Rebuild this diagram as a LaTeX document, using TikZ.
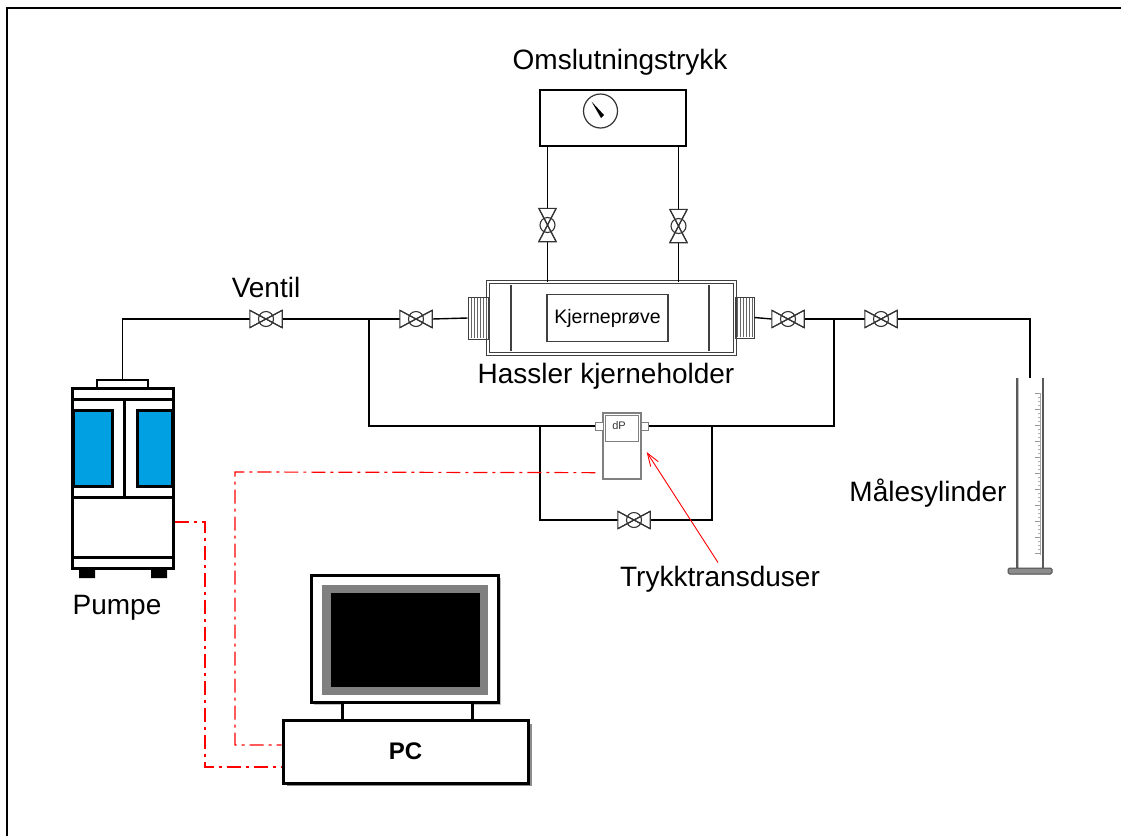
\documentclass[tikz,border=0pt]{standalone}
\usepackage{fontspec}
\setmainfont{Liberation Sans}
\usetikzlibrary{arrows.meta}
\definecolor{winblue}{RGB}{0,160,227}
\definecolor{frameg}{RGB}{128,128,128}
\begin{document}
\begin{tikzpicture}[x=1pt,y=-1pt,
  pipe/.style={line width=1.4pt, black},
  valvesym/.style={line width=1.1pt, draw=black!80},
  valveh/.style={rectangle, inner sep=0pt, minimum width=32pt, minimum height=17pt},
  valvev/.style={rectangle, inner sep=0pt, minimum width=17pt, minimum height=33pt},
  signal/.style={red, line width=1.2pt, dash pattern=on 14pt off 5pt on 3pt off 5pt},
  lbl/.style={font=\fontsize{28}{30}\selectfont, anchor=base, inner sep=0pt},
  box/.style={rectangle, inner sep=0pt}
]
\useasboundingbox (0,0) rectangle (1121,836);

% outer frame
\draw[line width=2.5pt] (7,836) -- (7,8) -- (1121,8);

% ---------- confining pressure gauge ----------
\node[box, draw, line width=1.8pt, minimum width=146pt, minimum height=56pt] (gauge) at (613,118) {};
\draw[line width=1.2pt, black!80] (600.5,111) circle[radius=17];
\fill (591.5,101.5) -- (604,115) -- (601,118) -- cycle;

% ---------- core holder ----------
\node[box, minimum width=247pt, minimum height=72pt] (holder) at (611.5,318) {};
\draw[line width=0.9pt, draw=black!75, double=white, double distance=2pt]
  (holder.north west) rectangle (holder.south east);
\draw[line width=1.1pt, black!75] (511,285) -- (511,351) (709,285) -- (709,351);
\node[box, draw=black!75, line width=1.1pt, minimum width=121pt, minimum height=47pt,
  font=\fontsize{19.5}{22}\selectfont] (sample) at (607.5,318) {Kjerneprøve};

% threaded end connectors
\node[box, draw=black!75, line width=1pt, minimum width=20pt, minimum height=42pt] (conL) at (478,318) {};
\node[box, draw=black!75, line width=1pt, minimum width=19pt, minimum height=41pt] (conR) at (744.5,317.5) {};
\foreach \x in {471,474,...,486} \draw[black!60, line width=0.7pt] (\x,298) -- (\x,338);
\foreach \x in {737,740,...,752} \draw[black!60, line width=0.7pt] (\x,298) -- (\x,337);

% ---------- valves ----------
\node[valveh] (v1) at (266,319) {};
\node[valveh] (v2) at (416,319) {};
\node[valveh] (v3) at (788,319) {};
\node[valveh] (v4) at (881,319) {};
\node[valveh] (vb) at (634,520) {};
\node[valvev] (vg1) at (547.5,225) {};
\node[valvev] (vg2) at (678.5,226) {};

% ---------- differential pressure transducer ----------
\node[box, draw=black!50, line width=1.3pt, minimum width=38pt, minimum height=66pt] (td) at (622,446) {};
\draw[black!50, line width=1pt] (605.5,415.5) rectangle (638.5,441);
\node[box, draw=black!50, line width=1pt, fill=white, minimum width=8pt, minimum height=8pt] (tdL) at (599,426) {};
\node[box, draw=black!50, line width=1pt, fill=white, minimum width=7pt, minimum height=8pt] (tdR) at (644.5,426) {};
\node[font=\fontsize{11}{12}\selectfont, anchor=base, inner sep=0pt, text=black!80] (dp) at (619,429) {dP};

% ---------- pump ----------
\node[box, draw, line width=3pt, fill=white, minimum width=101pt, minimum height=180pt] (pump) at (122.5,478) {};
\node[box, draw, line width=2.5pt, fill=white, minimum width=51pt, minimum height=8pt] (pumpcap) at (122.5,384) {};
\draw[line width=3pt, fill=winblue] (73,410) rectangle (112,486);
\draw[line width=3pt, fill=winblue] (137,410) rectangle (172,486);
\draw[line width=2.5pt] (72,399.5) -- (173,399.5);
\draw[line width=2.5pt] (124.5,399.5) -- (124.5,497);
\draw[line width=3pt] (72,497.5) -- (173,497.5);
\draw[line width=3pt] (72,557.5) -- (173,557.5);
\fill (79,568) rectangle (95,578) (151,568) rectangle (167,578);

% ---------- measuring cylinder ----------
\node[box, minimum width=26pt, minimum height=190pt] (cyl) at (1030,473) {};
\draw[line width=2pt, black!65] (cyl.north west) -- (cyl.south west);
\draw[line width=2pt, black!65] (cyl.north east) -- (cyl.south east);
\draw[line width=0.8pt, black!25] ([xshift=2pt]cyl.north west) -- ([xshift=2pt]cyl.south west);
\draw[line width=1pt, black!35] (1040,393) -- (1040,555);
\foreach \t in {0,...,40} {
  \pgfmathsetmacro{\ty}{393+4*\t}
  \ifnum\numexpr\t-4*(\t/4)\relax=0
    \draw[black!40, line width=0.7pt] (1035,\ty) -- (1040,\ty);
  \else
    \draw[black!30, line width=0.5pt] (1038,\ty) -- (1040,\ty);
  \fi
}
\draw[fill=black!45, draw=black!70, line width=1pt, rounded corners=1.5pt] (1008,568) rectangle (1052,574);

% ---------- computer ----------
\fill[black!25] (314,578) rectangle (501,705);
\node[box, draw, line width=3pt, fill=white, minimum width=187pt, minimum height=127pt] (mon) at (404.5,638.5) {};
\fill[frameg] (322,585) rectangle (488,695);
\fill[black] (331,593) rectangle (480,687);
\node[box, draw, line width=3pt, fill=white, minimum width=130pt, minimum height=18pt] (stand) at (407,711) {};
\fill[black!45] (287,724) rectangle (532,786);
\node[box, draw, line width=3pt, fill=white, minimum width=245pt, minimum height=63pt,
  font=\bfseries\fontsize{24}{26}\selectfont] (pcbase) at (405.5,751.5) {PC};

% ---------- piping ----------
\coordinate (jl) at (369,319);
\coordinate (jr) at (834,319);
\coordinate (il) at (540,426);
\coordinate (ir) at (712,426);
\draw[pipe] (pumpcap.north) |- (v1.west);
\draw[pipe] (v1.east) -- (v2.west);
\draw[pipe] (v2.east) -- (conL.west);
\draw[pipe] (conR.east) -- (v3.west);
\draw[pipe] (v3.east) -- (v4.west);
\draw[pipe] (v4.east) -| (cyl.north);
\draw[pipe] (gauge.south -| vg1) -- (vg1.north);
\draw[pipe] (vg1.south) -- (vg1 |- holder.north);
\draw[pipe] (gauge.south -| vg2) -- (vg2.north);
\draw[pipe] (vg2.south) -- (vg2 |- holder.north);
\draw[pipe] (jl) |- (tdL.west);
\draw[pipe] (tdR.east) -| (jr);
\draw[pipe] (il) |- (vb.west);
\draw[pipe] (vb.east) -| (ir);

% valve symbols: two opposed triangles and a ball
\foreach \v in {v1,v2,v3,v4,vb}
  \draw[valvesym, fill=white] (\v.north west) -- (\v.south west) -- (\v.center) -- cycle
    (\v.north east) -- (\v.south east) -- (\v.center) -- cycle
    (\v.center) circle[radius=7.5];
\foreach \v in {vg1,vg2}
  \draw[valvesym, fill=white] (\v.north west) -- (\v.north east) -- (\v.center) -- cycle
    (\v.south west) -- (\v.south east) -- (\v.center) -- cycle
    (\v.center) circle[radius=7.5];
\foreach \v in {v1,v2,v3,v4,vb}
  \draw[valvesym] (\v.north west) -- (\v.center) -- (\v.south east)
    (\v.south west) -- (\v.center) -- (\v.north east);
\foreach \v in {vg1,vg2}
  \draw[valvesym] (\v.north west) -- (\v.center) -- (\v.south east)
    (\v.south west) -- (\v.center) -- (\v.north east);

% ---------- signal cables ----------
\draw[signal] ([xshift=-7pt,yshift=7pt]td.south west) -- (235,472) |- ([yshift=6.5pt]pcbase.west);
\draw[signal] ([yshift=-44pt]pump.east) -- (205,522) |- ([yshift=-15.5pt]pcbase.west);

% ---------- labels ----------
\node[lbl] (lgauge) at (620,69) {Omslutningstrykk};
\node[lbl] (lvent) at (266,297) {Ventil};
\node[lbl] (lholder) at (606,383) {Hassler kjerneholder};
\node[lbl] (lpump) at (117,614) {Pumpe};
\node[lbl] (ltrans) at (720,586) {Trykktransduser};
\node[lbl] (lcyl) at (928,501) {Målesylinder};

\draw[red, line width=0.9pt, -{Straight Barb[length=13pt,width=9pt]}]
  ([xshift=-2pt,yshift=3pt]ltrans.north) -- ([xshift=5pt,yshift=-6pt]td.east);
\end{tikzpicture}
\end{document}
